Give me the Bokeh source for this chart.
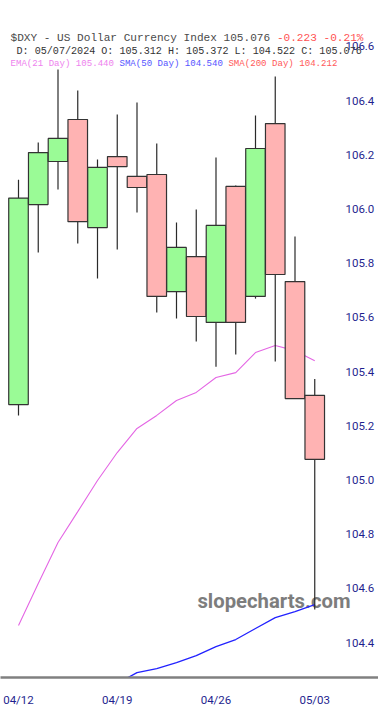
from bokeh.plotting import figure
from bokeh.models import Range1d, LinearAxis, FixedTicker, Label, ColumnDataSource, PrintfTickFormatter
from bokeh.embed import file_html
from bokeh.resources import INLINE
import numpy as np

# ---- data ----
dates = ["04/16", "04/17", "04/18", "04/19", "04/22", "04/23", "04/24", "04/25",
         "04/26", "04/29", "04/30", "05/01", "05/02", "05/03", "05/06", "05/07"]
opens  = [105.278, 106.016, 106.175, 106.330, 105.931, 106.193, 106.120, 106.127,
          105.695, 105.824, 105.581, 106.083, 105.677, 106.315, 105.732, 105.312]
highs  = [106.108, 106.245, 106.514, 106.437, 106.182, 106.348, 106.393, 106.241,
          105.950, 105.998, 106.190, 106.086, 106.345, 106.489, 105.898, 105.372]
lows   = [105.238, 105.839, 106.072, 105.872, 105.743, 105.850, 105.987, 105.618,
          105.596, 105.511, 105.418, 105.463, 105.669, 105.437, 105.300, 104.522]
closes = [106.040, 106.208, 106.260, 105.953, 106.153, 106.156, 106.079, 105.677,
          105.858, 105.603, 105.939, 105.581, 106.223, 105.758, 105.300, 105.076]
ema21  = [104.463, 104.618, 104.769, 104.883, 104.998, 105.101, 105.190, 105.238,
          105.293, 105.323, 105.378, 105.396, 105.470, 105.496, 105.477, 105.440]
sma50  = [None, None, None, None, None, 104.249, 104.289, 104.304,
          104.326, 104.352, 104.385, 104.411, 104.452, 104.492, 104.514, 104.540]
x_tick_pos = [0, 5, 10, 15]
x_tick_labels = ["04/12", "04/19", "04/26", "05/03"]
y_ticks = [104.4, 104.6, 104.8, 105.0, 105.2, 105.4, 105.6, 105.8, 106.0, 106.2, 106.4, 106.6]

idx = list(range(len(dates)))
up = [c >= o for o, c in zip(opens, closes)]
src = ColumnDataSource(dict(
    x=idx, o=opens, h=highs, l=lows, c=closes,
    top=[max(o, c) for o, c in zip(opens, closes)],
    bot=[min(o, c) for o, c in zip(opens, closes)],
    fill=["#9afb96" if u else "#ffb3b3" for u in up],
    ema=ema21,
    sma=[np.nan if v is None else v for v in sma50],
))

FW, FH = 378, 677
p = figure(frame_width=FW, frame_height=FH, output_backend="svg", toolbar_location=None,
           x_range=Range1d(-0.9114, 18.228), y_range=Range1d(104.271, 106.769),
           x_axis_location="below", y_axis_location=None, min_border=0,
           outline_line_color=None, background_fill_color="white", border_fill_color="white")
p.xgrid.visible = False
p.ygrid.visible = False

# watermark
p.add_layout(Label(x=9.06, y=104.555, text="slopecharts.com", text_font="Roboto",
                   text_font_style="bold", text_font_size="20.3px", text_color="#7d7d7d",
                   text_baseline="middle", text_align="left", level="underlay"))

p.line("x", "ema", source=src, line_color="#e466e4", line_width=1.1)
p.line("x", "sma", source=src, line_color="#2222ff", line_width=1.3)
p.segment("x", "h", "x", "l", source=src, line_color="#2a2a2a", line_width=1.2)
p.vbar(x="x", top="top", bottom="bot", width=0.99, source=src,
       fill_color="fill", line_color="#333333", line_width=1.2)

# axes
xa = p.xaxis[0]
xa.ticker = FixedTicker(ticks=x_tick_pos)
xa.major_label_overrides = {k: v for k, v in zip(x_tick_pos, x_tick_labels)}
xa.axis_line_color = "#808080"
xa.axis_line_width = 2.5
xa.major_tick_line_color = None
xa.minor_tick_line_color = None
xa.major_label_standoff = 9
xa.major_label_text_font = "Roboto"
xa.major_label_text_font_size = "11.5px"
xa.major_label_text_color = "#1f1f8f"

ya = LinearAxis(fixed_location=16.15, ticker=FixedTicker(ticks=y_ticks),
                formatter=PrintfTickFormatter(format="%.1f"))
ya.axis_line_color = None
ya.major_tick_line_color = None
ya.minor_tick_line_color = None
ya.major_label_standoff = 2
ya.major_label_text_font = "Roboto"
ya.major_label_text_font_size = "11.5px"
ya.major_label_text_color = "#1f1f8f"
p.add_layout(ya, "right")

# header
mono = "Liberation Mono"
def hdr(x, y, text, color, size):
    p.add_layout(Label(x=x, y=FH - y, x_units="screen", y_units="screen", text=text,
                       text_font=mono, text_font_size=size, text_color=color,
                       text_baseline="middle", text_align="left"))

cw1 = 0.6 * 11.1
line1a = "$DXY - US Dollar Currency Index 105.076 "
hdr(10, 37.7, line1a, "#4a4a4a", "11.1px")
hdr(10 + len(line1a) * cw1, 37.7, "-0.223 -0.21%", "#ff5252", "11.1px")
hdr(16, 50.7, "D: 05/07/2024 O: 105.312 H: 105.372 L: 104.522 C: 105.076", "#333333", "10.1px")
cw3 = 0.6 * 9.08
s1 = "EMA(21 Day) 105.440 "
s2 = "SMA(50 Day) 104.540 "
s3 = "SMA(200 Day) 104.212"
hdr(10, 63.3, s1, "#ee82ee", "9.08px")
hdr(10 + len(s1) * cw3, 63.3, s2, "#5555ff", "9.08px")
hdr(10 + (len(s1) + len(s2)) * cw3, 63.3, s3, "#ff5a5a", "9.08px")

open("out.html", "w").write(file_html(p, INLINE))
